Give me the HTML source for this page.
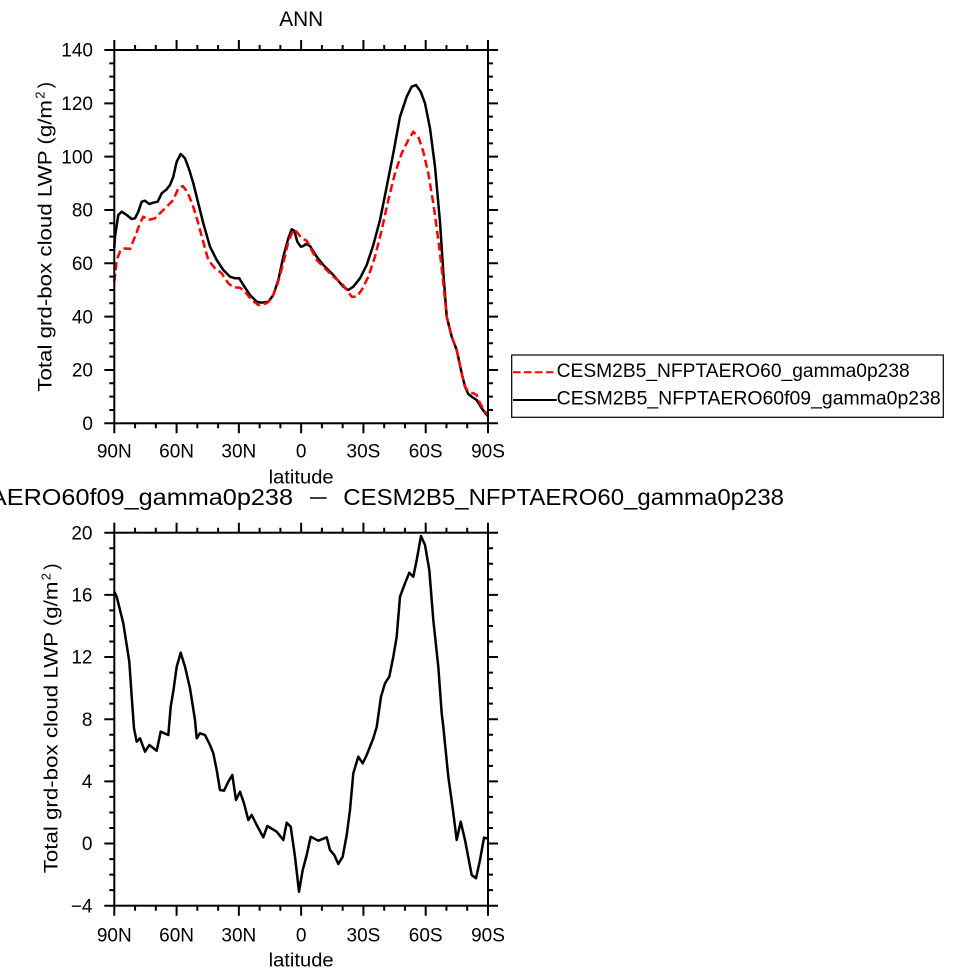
<!DOCTYPE html>
<html><head><meta charset="utf-8"><style>
html,body{margin:0;padding:0;background:#fff;}
svg{display:block;}
text{font-family:"Liberation Sans",sans-serif;fill:#000;}
</style></head><body>
<svg width="977" height="975" viewBox="0 0 977 975" xmlns="http://www.w3.org/2000/svg">
<rect width="977" height="975" fill="#fff"/>

<!-- ===== TOP PLOT ===== -->
<text x="301.2" y="26" font-size="21" text-anchor="middle" textLength="44" lengthAdjust="spacingAndGlyphs">ANN</text>

<polyline fill="none" stroke="#000" stroke-width="2.5" stroke-linejoin="round" points="114.3,248 115,236.7 118.3,215 121.7,211.7 126.7,215 131.7,219 135,218.3 138.3,211.7 141.7,201.7 145,200.7 149.3,204 153.3,202.7 157.7,201.7 161.7,193.3 166.7,189.3 170,185 173.3,176.7 176.7,161.7 180.7,154 185,158.3 189.3,170 193.3,183.3 198.3,203.3 203.3,223.3 210,246.7 216.7,260 223.3,270 230,276.7 235,278.3 239.3,278.3 243.3,285 250,295 256.7,301.7 261.7,302.7 268.3,301.7 273.3,295 278.3,280 283.3,256.7 288.3,238.3 291.7,229.3 294.3,230.7 297.3,241.7 300.7,246.7 303.3,246 306,244 310,246 316.7,256.7 323.3,265 333.3,275 343.3,286.7 348.3,290 353.3,286.7 360,278.3 366.7,265 373.3,245 380,220 386.7,186.7 393.3,153.3 400,116.7 406.7,96.7 411.7,86.7 416,85 420.7,91.7 425,103.3 430,128.3 435,166.7 440,222 443.5,275 446.7,316.7 451.7,336.7 456.7,350 461.7,373.3 465,386.7 468.3,394 471.7,396.7 476.7,400 481.7,408.3 486.7,415 488,416"/>

<polyline fill="none" stroke="#ff0000" stroke-width="2.5" stroke-dasharray="8 4" stroke-linejoin="round" points="114.3,282 116.7,260 120,251.7 123.3,248.3 130,249 135,236.7 140,223.3 143.3,216.7 148.3,220 155,218.3 160,213.3 166.7,206.7 173.3,200 178.3,188.3 182.7,186 187.3,191.7 192.7,205 197.3,220 202.7,240 208.3,260 215,268.3 221.7,273.3 228.3,283.3 233.3,287.3 240,287.7 245,291.7 251.7,300 258.3,305 266.7,303.3 271.7,298.3 276.7,286.7 283.3,263.3 288.3,241.7 293.3,230 296.7,231.7 301.7,238.3 306.7,240.7 310,246.7 316.7,260 323.3,266.7 333.3,276.7 341.7,283.3 346.7,290 351.7,296.7 356.7,296.7 361.7,290 368.3,276.7 375,256.7 381.7,230 388.3,200 395,173.3 401.7,153.3 408.3,140 413.3,131.7 418.3,136.7 423.3,151.7 428.3,173.3 433.3,203.3 438.3,240 441,262 443.3,283.3 446.7,316.7 451.7,336.7 456.7,350 461.7,373.3 465,386.7 468.3,391.7 473.3,393.3 476.7,395 480,403.3 485,411.7 488,414"/>

<rect x="114.3" y="50" width="373.7" height="373.3" fill="none" stroke="#000" stroke-width="2"/>
<path fill="none" stroke="#000" stroke-width="2" d="
M114.3 50V40M176.58 50V40M238.86 50V40M301.14 50V40M363.42 50V40M425.7 50V40M487.98 50V40
M135.06 50V45M155.82 50V45M197.34 50V45M218.1 50V45M259.62 50V45M280.38 50V45M321.9 50V45M342.66 50V45M384.18 50V45M404.94 50V45M446.46 50V45M467.22 50V45
M114.3 423.3V433.3M176.58 423.3V433.3M238.86 423.3V433.3M301.14 423.3V433.3M363.42 423.3V433.3M425.7 423.3V433.3M487.98 423.3V433.3
M135.06 423.3V428.3M155.82 423.3V428.3M197.34 423.3V428.3M218.1 423.3V428.3M259.62 423.3V428.3M280.38 423.3V428.3M321.9 423.3V428.3M342.66 423.3V428.3M384.18 423.3V428.3M404.94 423.3V428.3M446.46 423.3V428.3M467.22 423.3V428.3
M114.3 423.3H104.3M114.3 369.97H104.3M114.3 316.64H104.3M114.3 263.31H104.3M114.3 209.98H104.3M114.3 156.65H104.3M114.3 103.33H104.3M114.3 50H104.3
M488 423.3H498M488 369.97H498M488 316.64H498M488 263.31H498M488 209.98H498M488 156.65H498M488 103.33H498M488 50H498
M114.3 63.33H109.3M114.3 76.66H109.3M114.3 90H109.3M114.3 116.66H109.3M114.3 130H109.3M114.3 143.32H109.3M114.3 169.98H109.3M114.3 183.31H109.3M114.3 196.64H109.3M114.3 223.31H109.3M114.3 236.64H109.3M114.3 249.97H109.3M114.3 276.64H109.3M114.3 289.97H109.3M114.3 303.3H109.3M114.3 329.97H109.3M114.3 343.3H109.3M114.3 356.63H109.3M114.3 383.3H109.3M114.3 396.63H109.3M114.3 409.96H109.3
M488 63.33H493M488 76.66H493M488 90H493M488 116.66H493M488 130H493M488 143.32H493M488 169.98H493M488 183.31H493M488 196.64H493M488 223.31H493M488 236.64H493M488 249.97H493M488 276.64H493M488 289.97H493M488 303.3H493M488 329.97H493M488 343.3H493M488 356.63H493M488 383.3H493M488 396.63H493M488 409.96H493
"/>

<g font-size="19" text-anchor="end">
<text x="93" y="430">0</text>
<text x="93" y="376.7">20</text>
<text x="93" y="323.3">40</text>
<text x="93" y="270">60</text>
<text x="93" y="216.7">80</text>
<text x="93" y="163.3">100</text>
<text x="93" y="110">120</text>
<text x="93" y="56.7">140</text>
</g>
<g font-size="19" text-anchor="middle">
<text x="114.3" y="457.5">90N</text>
<text x="176.58" y="457.5">60N</text>
<text x="238.86" y="457.5">30N</text>
<text x="301.14" y="457.5">0</text>
<text x="363.42" y="457.5">30S</text>
<text x="425.7" y="457.5">60S</text>
<text x="487.98" y="457.5">90S</text>
<text x="301.14" y="483.3" textLength="65" lengthAdjust="spacingAndGlyphs">latitude</text>
</g>

<text transform="translate(51.7,391.7) rotate(-90)" x="0" y="0" font-size="19" textLength="291.7" lengthAdjust="spacingAndGlyphs">Total grd-box cloud LWP (g/m</text>
<text transform="translate(51.7,391.7) rotate(-90)" x="293" y="-7" font-size="13">2</text>
<text transform="translate(51.7,391.7) rotate(-90)" x="303.5" y="0" font-size="19">)</text>

<!-- Legend -->
<rect x="511.7" y="355" width="431.6" height="62.3" fill="none" stroke="#000" stroke-width="1.2"/>
<path d="M513 372.3H556.7" stroke="#ff0000" stroke-width="2" stroke-dasharray="7.5 3.5" fill="none"/>
<path d="M513 400H556.7" stroke="#000" stroke-width="2" fill="none"/>
<text x="556.7" y="377" font-size="19" textLength="353" lengthAdjust="spacingAndGlyphs">CESM2B5_NFPTAERO60_gamma0p238</text>
<text x="556.7" y="404.7" font-size="19" textLength="384" lengthAdjust="spacingAndGlyphs">CESM2B5_NFPTAERO60f09_gamma0p238</text>

<!-- ===== BOTTOM PLOT ===== -->
<text x="-206" y="505" font-size="23" textLength="499" lengthAdjust="spacingAndGlyphs">CESM2B5_NFPTAERO60f09_gamma0p238</text>
<path d="M310 498H326.7" stroke="#000" stroke-width="1.6" fill="none"/>
<text x="343.3" y="505" font-size="23" textLength="440.7" lengthAdjust="spacingAndGlyphs">CESM2B5_NFPTAERO60_gamma0p238</text>

<polyline fill="none" stroke="#000" stroke-width="2.5" stroke-linejoin="round" points="114.3,591.7 116.7,596.7 123.3,623.3 129.3,661.7 131.7,696.7 134,728.3 136.7,741.7 140,738.3 145,751.7 149.3,745 156.7,750.7 160.7,731.7 168.3,735 170.7,706.7 173.5,690 176.7,666.7 180.7,652.7 185,666.7 190,688.3 195,720 196.7,738.3 200,733.3 205,735 210,745 213.3,753.3 216.7,770 220,790 224,790.7 228.3,781.7 232.3,775 236,800 240,791.7 244,803.3 248.3,820 251.7,815 256.7,825 263.3,837.3 267.3,826 276.7,831.7 283.3,840 286.7,822.7 290.7,826.7 295,856.7 299,891.7 302.7,870 306.7,855 310.7,836.7 318.3,840.7 326.7,837.3 330,850 334.3,855 338.3,864 342.7,856.7 346.7,835 350,810 353.3,773.3 358.3,756.7 362.7,763.3 366.7,755 373.3,738.3 376.7,727 381,696.7 385,683.3 389.3,676.7 393.3,656.7 396.7,636.7 400,596.7 405,583.3 409.3,572.7 413.3,576.7 416.7,560 421,536 425,545 429.3,570 433.3,620 438.3,666.7 441.7,713.3 443.3,726.7 448.3,776.7 452.7,808.3 456.7,840 460.7,821.7 465,840 471.7,875 476,878.3 480,860 484,837.7 487.3,838.3"/>

<rect x="114.3" y="532.7" width="373.7" height="373" fill="none" stroke="#000" stroke-width="2"/>
<path fill="none" stroke="#000" stroke-width="2" d="
M114.3 532.7V522.7M176.58 532.7V522.7M238.86 532.7V522.7M301.14 532.7V522.7M363.42 532.7V522.7M425.7 532.7V522.7M487.98 532.7V522.7
M135.06 532.7V527.7M155.82 532.7V527.7M197.34 532.7V527.7M218.1 532.7V527.7M259.62 532.7V527.7M280.38 532.7V527.7M321.9 532.7V527.7M342.66 532.7V527.7M384.18 532.7V527.7M404.94 532.7V527.7M446.46 532.7V527.7M467.22 532.7V527.7
M114.3 905.7V915.7M176.58 905.7V915.7M238.86 905.7V915.7M301.14 905.7V915.7M363.42 905.7V915.7M425.7 905.7V915.7M487.98 905.7V915.7
M135.06 905.7V910.7M155.82 905.7V910.7M197.34 905.7V910.7M218.1 905.7V910.7M259.62 905.7V910.7M280.38 905.7V910.7M321.9 905.7V910.7M342.66 905.7V910.7M384.18 905.7V910.7M404.94 905.7V910.7M446.46 905.7V910.7M467.22 905.7V910.7
M114.3 905.7H104.3M114.3 843.53H104.3M114.3 781.37H104.3M114.3 719.2H104.3M114.3 657.03H104.3M114.3 594.87H104.3M114.3 532.7H104.3
M488 905.7H498M488 843.53H498M488 781.37H498M488 719.2H498M488 657.03H498M488 594.87H498M488 532.7H498
M114.3 890.16H109.3M114.3 874.62H109.3M114.3 859.07H109.3M114.3 827.99H109.3M114.3 812.45H109.3M114.3 796.91H109.3M114.3 765.83H109.3M114.3 750.29H109.3M114.3 734.74H109.3M114.3 703.66H109.3M114.3 688.12H109.3M114.3 672.57H109.3M114.3 641.49H109.3M114.3 625.95H109.3M114.3 610.41H109.3M114.3 579.33H109.3M114.3 563.79H109.3M114.3 548.24H109.3
M488 890.16H493M488 874.62H493M488 859.07H493M488 827.99H493M488 812.45H493M488 796.91H493M488 765.83H493M488 750.29H493M488 734.74H493M488 703.66H493M488 688.12H493M488 672.57H493M488 641.49H493M488 625.95H493M488 610.41H493M488 579.33H493M488 563.79H493M488 548.24H493
"/>

<g font-size="19" text-anchor="end">
<text x="92.5" y="912.4">−4</text>
<text x="92.5" y="850.2">0</text>
<text x="92.5" y="788.1">4</text>
<text x="92.5" y="725.9">8</text>
<text x="92.5" y="663.7">12</text>
<text x="92.5" y="601.6">16</text>
<text x="92.5" y="539.4">20</text>
</g>
<g font-size="19" text-anchor="middle">
<text x="114.3" y="941.7">90N</text>
<text x="176.58" y="941.7">60N</text>
<text x="238.86" y="941.7">30N</text>
<text x="301.14" y="941.7">0</text>
<text x="363.42" y="941.7">30S</text>
<text x="425.7" y="941.7">60S</text>
<text x="487.98" y="941.7">90S</text>
<text x="301.14" y="966.7" textLength="65" lengthAdjust="spacingAndGlyphs">latitude</text>
</g>

<text transform="translate(57.3,873.3) rotate(-90)" x="0" y="0" font-size="19" textLength="291.7" lengthAdjust="spacingAndGlyphs">Total grd-box cloud LWP (g/m</text>
<text transform="translate(57.3,873.3) rotate(-90)" x="293" y="-7" font-size="13">2</text>
<text transform="translate(57.3,873.3) rotate(-90)" x="303.5" y="0" font-size="19">)</text>
</svg>
</body></html>
